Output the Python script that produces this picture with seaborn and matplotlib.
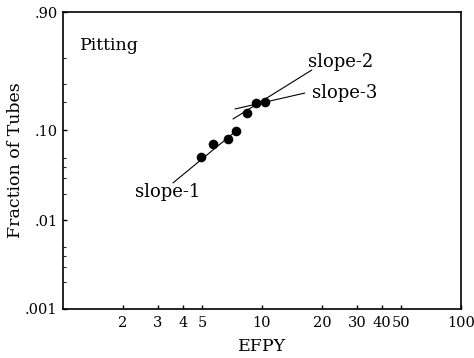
import numpy as np
import pandas as pd
import matplotlib
matplotlib.use("Agg")
import matplotlib.pyplot as plt
import matplotlib.ticker as mticker
import seaborn as sns

# ---- data ----
efpy = [4.92, 5.70, 6.72, 7.40, 8.38, 9.33, 10.35]
fraction = [0.0516, 0.0706, 0.080, 0.0984, 0.1515, 0.192, 0.199]

slope1_x = [3.57, 7.40]
slope1_y = [0.0264, 0.0984]
slope2_x = [7.15, 17.8]
slope2_y = [0.132, 0.398]
slope3_x = [7.32, 16.4]
slope3_y = [0.168, 0.243]

x_ticks = [2, 3, 4, 5, 10, 20, 30, 40, 50, 100]
x_ticklabels = ["2", "3", "4", "5", "10", "20", "30", "40", "50", "100"]
y_ticks = [0.001, 0.01, 0.10, 0.90]
y_ticklabels = [".001", ".01", ".10", ".90"]
y_minor = [0.002, 0.003, 0.004, 0.005, 0.02, 0.03, 0.04, 0.05, 0.2, 0.3, 0.5]

sns.set_theme(style="white")
plt.rcParams["font.family"] = ["DejaVu Serif"]
plt.rcParams["text.color"] = "black"
plt.rcParams["axes.labelcolor"] = "black"

fig = plt.figure(figsize=(4.74, 3.58), dpi=100)
ax = fig.add_axes([63/474, 1 - 309/358, (461-63)/474, (309-12)/358])


def fwd(F):
    F = np.clip(np.asarray(F, dtype=float), 1e-9, 1 - 1e-9)
    return np.log(-np.log(1 - F))


def inv(w):
    w = np.asarray(w, dtype=float)
    return 1 - np.exp(-np.exp(w))


ax.set_xscale("log")
ax.set_yscale("function", functions=(fwd, inv))

df = pd.DataFrame({"EFPY": efpy, "Fraction": fraction})
sns.scatterplot(data=df, x="EFPY", y="Fraction", ax=ax, color="black",
                s=48, edgecolor="black", linewidth=0, zorder=3)

for xs, ys in [(slope1_x, slope1_y), (slope2_x, slope2_y), (slope3_x, slope3_y)]:
    ax.plot(xs, ys, color="black", lw=0.8, zorder=2)

ax.set_xlim(1, 100)
ax.set_ylim(0.001, 0.90)

ax.xaxis.set_major_locator(mticker.FixedLocator(x_ticks))
ax.xaxis.set_major_formatter(mticker.FixedFormatter(x_ticklabels))
ax.xaxis.set_minor_locator(mticker.NullLocator())
ax.yaxis.set_major_locator(mticker.FixedLocator(y_ticks))
ax.yaxis.set_major_formatter(mticker.FixedFormatter(y_ticklabels))
ax.yaxis.set_minor_locator(mticker.FixedLocator(y_minor))

ax.tick_params(axis="both", which="major", direction="in", length=3, width=1,
               labelsize=10.5, colors="black")
ax.tick_params(axis="x", which="major", pad=5)
ax.tick_params(axis="y", which="major", pad=4)
ax.tick_params(axis="y", which="minor", direction="in", length=2, width=0.8, left=True)
ax.tick_params(axis="x", which="major", bottom=True)
ax.tick_params(axis="y", which="major", left=True)

for s in ax.spines.values():
    s.set_color("black")
    s.set_linewidth(1.2)

ax.set_xlabel("EFPY", fontsize=12.5, labelpad=6)
ax.set_ylabel("Fraction of Tubes", fontsize=12.5, labelpad=1)

ax.text(0.043, 0.888, "Pitting", transform=ax.transAxes, fontsize=12.5,
        ha="left", va="center")
ax.text(2.30, 0.0209, "slope-1", fontsize=13, ha="left", va="center")
ax.text(17.0, 0.465, "slope-2", fontsize=13, ha="left", va="center")
ax.text(17.8, 0.2434, "slope-3", fontsize=13, ha="left", va="center")

fig.savefig("out.png", dpi=100)
